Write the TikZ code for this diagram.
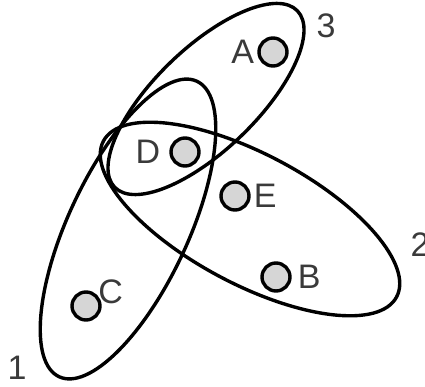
\documentclass[tikz,border=0pt]{standalone}
\usepackage{fontspec}
\setmainfont{Liberation Sans}
\usepackage{tikz}
\usetikzlibrary{positioning}
\definecolor{ink}{HTML}{000000}
\definecolor{txt}{HTML}{3A3A3A}
\definecolor{dot}{HTML}{D6D6D6}
\tikzset{
  vtx/.style={circle, draw=ink, fill=dot, line width=3.4pt,
              minimum size=28pt, inner sep=0pt},
  lbl/.style={text=txt, font=\fontsize{34}{40}\selectfont, inner sep=1pt},
  hedge/.style={draw=ink, line width=3.4pt}
}

\begin{document}
\begin{tikzpicture}[x=1pt, y=-1pt]
  \useasboundingbox (0,0) rectangle (425,387);
  % hyperedges
  \draw[hedge, rotate around={65:(128,229)}] (128,229) ellipse [x radius=163pt, y radius=60pt];
  \draw[hedge, rotate around={-28:(250,219)}] (250,219) ellipse [x radius=166pt, y radius=65pt];
  \draw[hedge, rotate around={44:(206,99)}] (206,99) ellipse [x radius=127pt, y radius=51pt];
  \node[lbl] (n1) at (17,368) {1};
  \node[lbl] (n2) at (420,245) {2};
  \node[lbl] (n3) at (326,26) {3};
  % vertices
  \node[vtx] (a) at (273,52) {};
  \node[vtx] (d) at (185,152) {};
  \node[vtx] (e) at (235,196) {};
  \node[vtx] (b) at (276,277) {};
  \node[vtx] (c) at (86,306) {};
  \node[lbl, left=2pt of a] (la) {A};
  \node[lbl, left=8pt of d] (ld) {D};
  \node[lbl, right=2pt of e] (le) {E};
  \node[lbl, right=5pt of b] (lb) {B};
  \node[lbl, above right=-10pt and 0pt of c] (lc) {C};
\end{tikzpicture}
\end{document}
